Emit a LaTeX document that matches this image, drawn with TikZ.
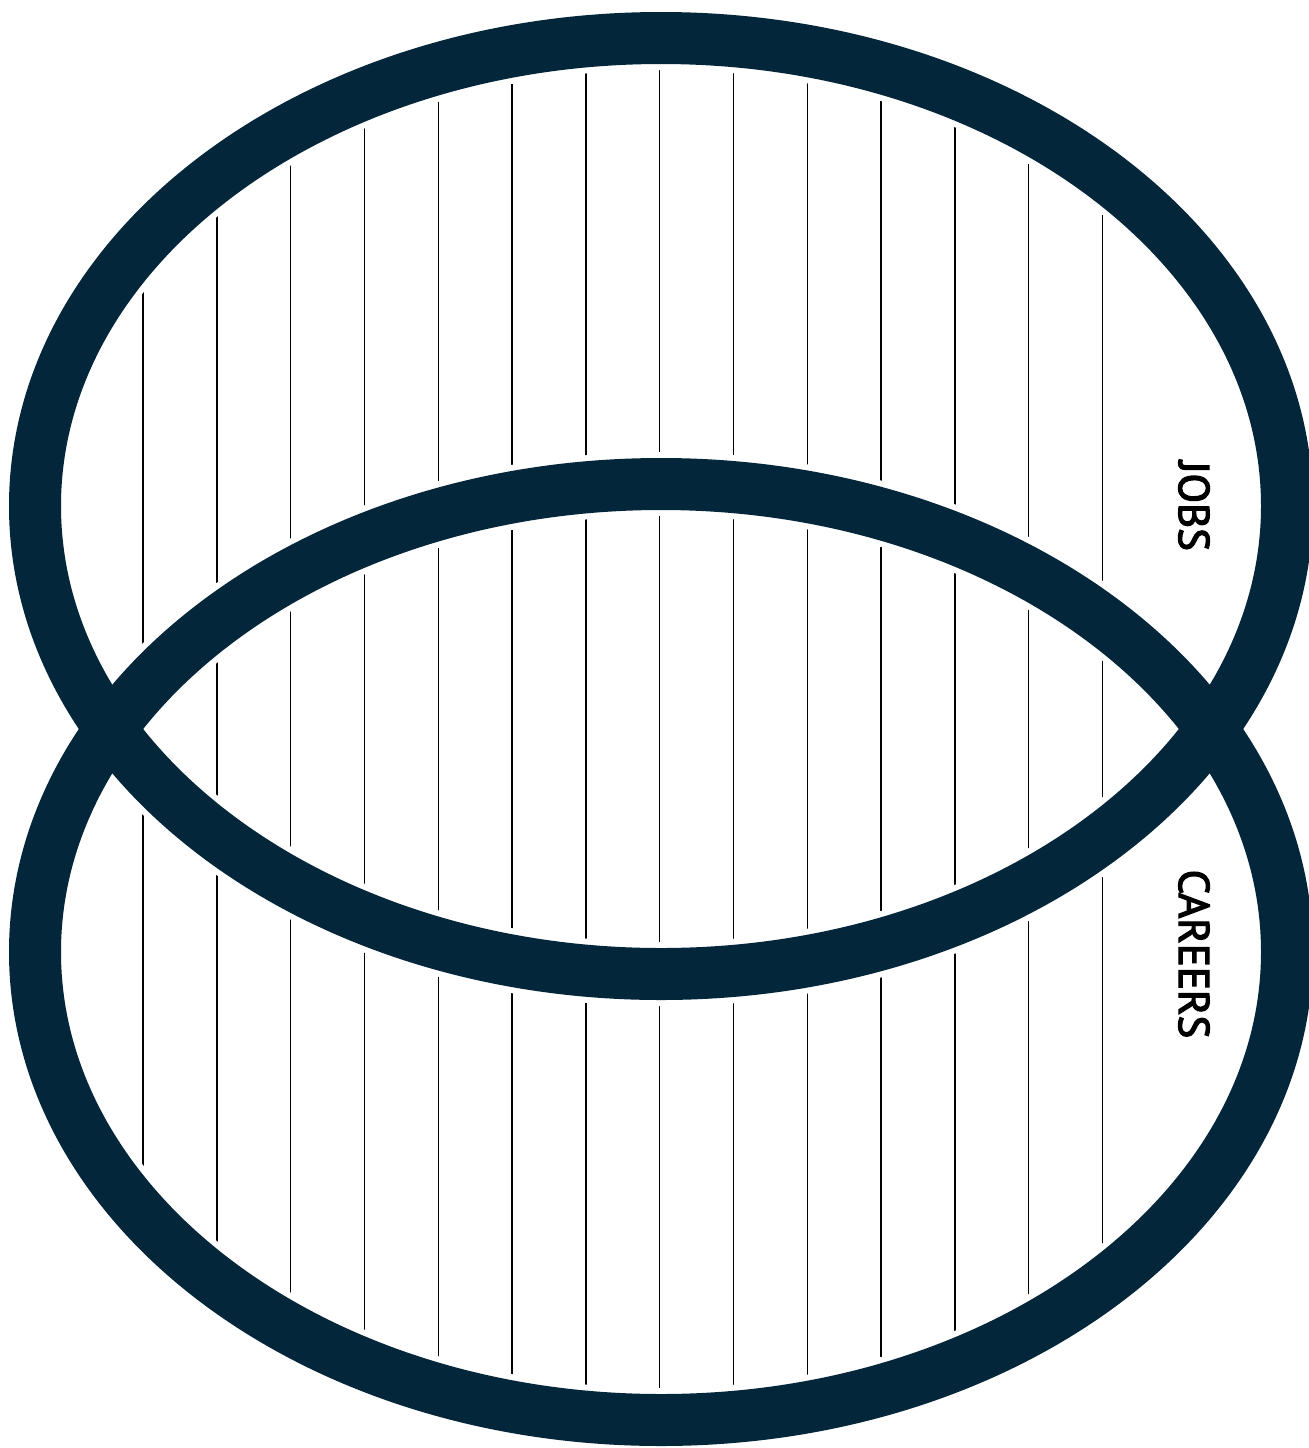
\documentclass[tikz,border=0pt]{standalone}
\usepackage{fontspec}
\setmainfont{PT Sans}
\newfontfamily\tagfont[FakeBold=3]{PT Sans}
\usepackage{tikz}
\usepackage{xcolor}
\definecolor{navy}{RGB}{3,38,58}

\begin{document}
\begin{tikzpicture}[
        x=0.5pt, y=-0.5pt,
        ring/.style={draw=navy, line width=26pt},
        halo/.style={draw=white, line width=32pt},
        rule/.style={draw=black, line width=0.7pt},
        tag/.style={font=\tagfont\fontsize{21.5pt}{24pt}\selectfont, text=black, rotate=-90, inner sep=0pt}
    ]
        \useasboundingbox[fill=white] (0,0) rectangle (1309,1448);

        % ================= RAYADO (LINEAS VERTICALES) =================
        \begin{scope}
            \clip (661,506) ellipse [x radius=626, y radius=468]
                  (661,952) ellipse [x radius=626, y radius=468];
            \foreach \i in {0,...,13}
                \draw[rule] ({143+73.8*\i},0) -- ({143+73.8*\i},1448);
        \end{scope}

        % ================= ELIPSES =================
        % Halo blanco para separar el rayado del trazo
        \draw[halo] (661,506) ellipse [x radius=626, y radius=468];
        \draw[halo] (661,952) ellipse [x radius=626, y radius=468];
        \draw[ring] (661,506) ellipse [x radius=626, y radius=468];
        \draw[ring] (661,952) ellipse [x radius=626, y radius=468];

        % Etiquetas
        \node[tag] (jobs) at (1194,506) {JOBS};
        \node[tag] (careers) at (1194,954) {CAREERS};

    \end{tikzpicture}
\end{document}
